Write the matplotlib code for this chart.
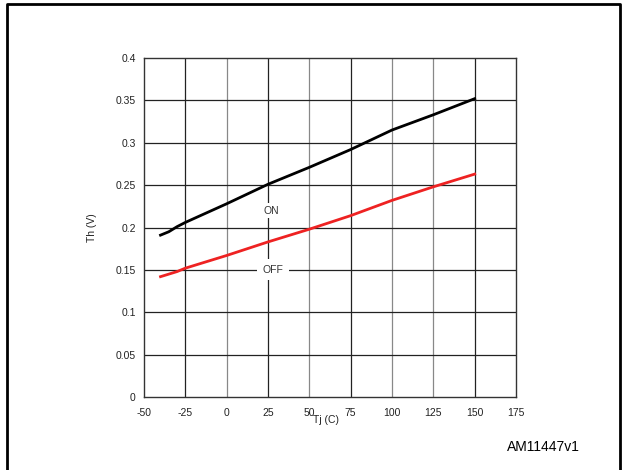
import matplotlib.pyplot as plt
from matplotlib.lines import Line2D

plt.rcParams['font.family'] = ['Liberation Sans', 'DejaVu Sans']
plt.rcParams['axes.unicode_minus'] = False

# Data
tj = [-40, -35, -30, -25, 0, 25, 50, 75, 100, 125, 150]
th_on = [0.191, 0.195, 0.201, 0.206, 0.228, 0.251, 0.271, 0.292, 0.315, 0.333, 0.352]
th_off = [0.142, 0.145, 0.148, 0.152, 0.167, 0.183, 0.198, 0.214, 0.232, 0.248, 0.263]

x_ticks = [-50, -25, 0, 25, 50, 75, 100, 125, 150, 175]
y_ticks = [0, 0.05, 0.1, 0.15, 0.2, 0.25, 0.3, 0.35, 0.4]
y_labels = ['0', '0.05', '0.1', '0.15', '0.2', '0.25', '0.3', '0.35', '0.4']
gray_x = [0, 50, 100, 125]

fig = plt.figure(figsize=(6.25, 4.7), dpi=100)
ax = fig.add_axes([0.2304, 0.1553, 0.5952, 0.7213])

# grid
for x in x_ticks[1:-1]:
    ax.axvline(x, color='#888888' if x in gray_x else '#222222', lw=0.9, zorder=1)
for y in y_ticks[1:-1]:
    ax.axhline(y, color='#222222', lw=0.9, zorder=1)

ax.plot(tj, th_on, color='black', lw=2.0, zorder=3)
ax.plot(tj, th_off, color='#ee2222', lw=2.0, zorder=3)

ax.text(27, 0.22, 'ON', ha='center', va='center', fontsize=7.5, color='#333333',
        bbox=dict(facecolor='white', edgecolor='none', pad=2), zorder=2)
ax.text(28, 0.15, 'OFF', ha='center', va='center', fontsize=7.5, color='#333333',
        bbox=dict(facecolor='white', edgecolor='none', pad=4), zorder=2)

ax.set_xlim(-50, 175)
ax.set_ylim(0, 0.4)
ax.set_xticks(x_ticks)
ax.set_yticks(y_ticks)
ax.set_yticklabels(y_labels)
ax.tick_params(length=0, labelsize=7.5, colors='#222222')
ax.tick_params(axis='x', pad=8)
ax.tick_params(axis='y', pad=6)
for s in ax.spines.values():
    s.set_color('#333333')
    s.set_linewidth(1.0)

ax.set_xlabel('Tj (C)', fontsize=7.5, color='#222222', va='center')
ax.xaxis.set_label_coords(0.49, -0.068)
ax.set_ylabel('Th (V)', fontsize=7.5, color='#222222', va='center')
ax.yaxis.set_label_coords(-0.14, 0.5)

fig.text(0.927, 0.049, 'AM11447v1', ha='right', va='center', fontsize=10)

# outer frame (no bottom edge)
fx0, fx1, fy1 = 7 / 625, 620 / 625, 1 - 4 / 470
fig.add_artist(Line2D([fx0, fx0, fx1, fx1], [0, fy1, fy1, 0], color='black', lw=2,
                      transform=fig.transFigure))

fig.savefig('out.png', dpi=100)
